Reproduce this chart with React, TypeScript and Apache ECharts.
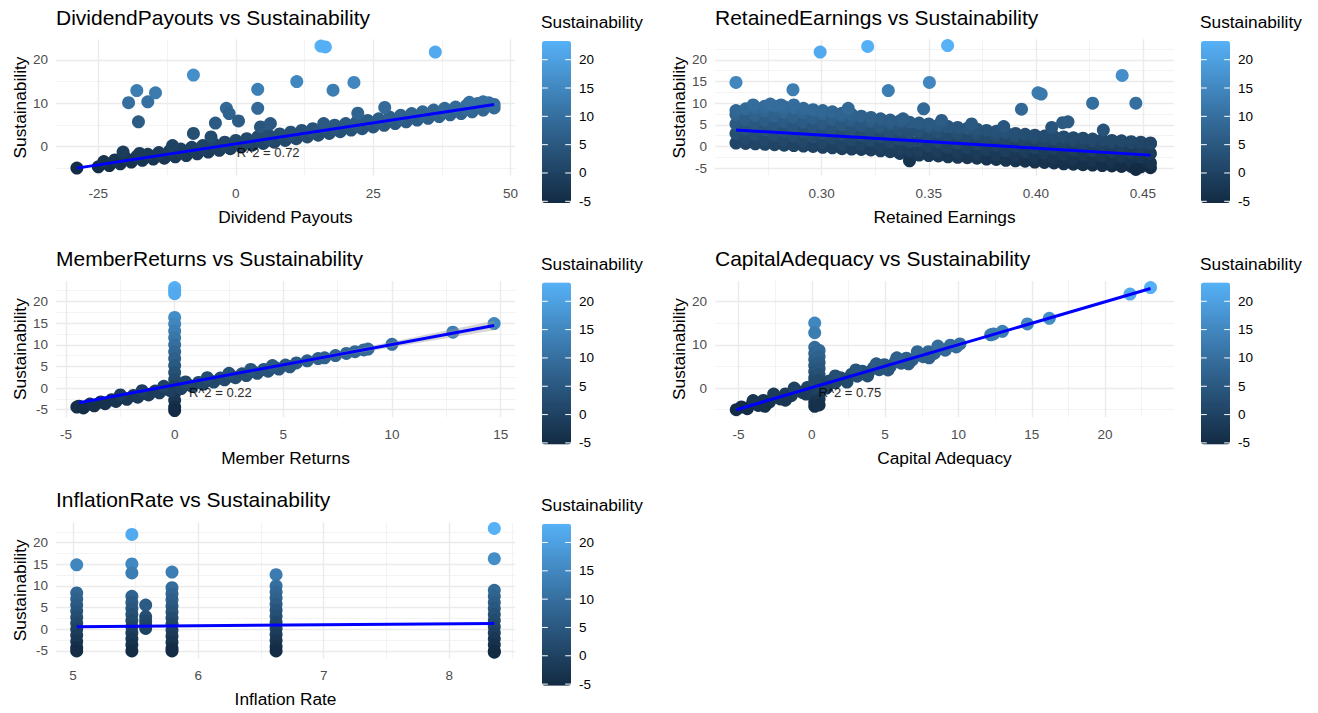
import React, { useEffect, useRef } from "react";
import * as echarts from "echarts";

const FONT = '"Liberation Sans", Arial, Helvetica, sans-serif';

// ---------------- DATA ----------------
// Panel 1: Dividend Payouts vs Sustainability
const dividendBandLower: [number, number][] = [
  [-25, -4.7], [-23, -4.4], [-21, -4.0], [-19, -3.6], [-17, -3.2], [-15, -2.9], [-13, -2.7], [-11, -2.4],
  [-9, -2.1], [-7, -1.7], [-5, -1.3], [-3, -0.9], [-1, -0.5], [1, -0.1], [3, 0.3], [5, 0.7], [7, 1.0],
  [9, 1.4], [11, 1.8], [13, 2.2], [15, 2.6], [17, 3.0], [19, 3.4], [21, 3.8], [23, 4.1], [25, 4.5],
  [27, 4.9], [29, 5.3], [31, 5.7], [33, 6.1], [35, 6.5], [37, 6.9], [39, 7.3], [41, 7.6], [43, 8.0],
  [45, 8.4], [47, 8.9],
];
const dividendBandUpper: [number, number][] = [
  [-24, -3.5], [-22, -3.1], [-20, -2.7], [-18, -2.3], [-16, -1.8], [-14, -1.4], [-12, -1.0], [-10, -0.6],
  [-8, -0.2], [-6, 0.2], [-4, 0.6], [-2, 1.0], [0, 1.4], [2, 1.8], [4, 2.2], [6, 2.6], [8, 2.9], [10, 3.3],
  [12, 3.7], [14, 4.1], [16, 4.5], [18, 4.9], [20, 5.3], [22, 5.7], [24, 6.0], [26, 6.4], [28, 6.8],
  [30, 7.2], [32, 7.6], [34, 8.0], [36, 8.4], [38, 8.8], [40, 9.1], [42, 9.5], [44, 9.9], [46, 10.1],
];
const dividendBandCenter: [number, number][] = [
  [-14, -2.1], [-10, -1.3], [-6, -0.6], [-2, 0.2], [2, 1.0], [6, 1.8], [10, 2.5], [14, 3.3], [18, 4.1],
  [22, 4.9], [26, 5.6], [30, 6.4], [34, 7.2], [38, 8.0], [42, 8.7], [46, 9.5], [47, 9.7],
];
const dividendOutliers: [number, number][] = [
  [-28.9, -5.0], [-20.5, -1.3], [-17.5, -1.6], [-11.5, 0.2], [16.0, 5.3], [22.2, 7.7], [42.5, 10.2], [45.0, 10.3],
  [-19.5, 10.1], [-18.0, 12.9], [-17.7, 5.7], [-16.0, 10.3], [-14.6, 12.4], [-7.7, 16.5], [-7.7, 3.0],
  [-3.7, 5.4], [-4.5, 2.2], [-1.7, 8.8], [-1.2, 7.6], [0.5, 5.9], [4.0, 13.2], [4.0, 8.8], [4.5, 4.5],
  [6.3, 5.3], [11.1, 15.0], [15.5, 23.2], [16.3, 23.0], [17.7, 13.0], [21.5, 14.8], [27.1, 9.0], [36.3, 21.8],
];
const dividendFit: [number, number][] = [[-28.9, -5.0], [47.0, 9.7]];

// Panel 2: Retained Earnings vs Sustainability (dense cloud by columns)
const retainedColumns: [number, number[]][] = [
  [0.2600, [0.8, 3.0, 5.2, 7.4, 8.3]],
  [0.2645, [0.7, 1.8, 4.0, 6.2, 8.7]],
  [0.2690, [0.6, 2.8, 5.0, 7.2, 9.1]],
  [0.2735, [0.5, 1.6, 3.8, 6.0, 8.2, 9.3]],
  [0.2780, [0.4, 2.6, 4.8, 7.0, 9.3]],
  [0.2825, [0.3, 1.4, 3.6, 5.8, 8.0, 9.2]],
  [0.2870, [0.2, 2.4, 4.6, 6.8, 9.0]],
  [0.2915, [0.1, 1.2, 3.4, 5.6, 7.8, 8.8]],
  [0.2960, [0.0, 2.2, 4.4, 6.6, 8.5]],
  [0.3005, [-0.2, 0.9, 3.1, 5.3, 7.5, 8.3]],
  [0.3050, [-0.3, 1.9, 4.1, 6.3, 8.0]],
  [0.3095, [-0.5, 0.6, 2.8, 5.0, 7.2, 7.7]],
  [0.3140, [-0.6, 1.6, 3.8, 6.0, 7.4]],
  [0.3185, [-0.7, 0.4, 2.6, 4.8, 7.0]],
  [0.3230, [-0.8, 1.4, 3.6, 5.8, 6.7]],
  [0.3275, [-1.0, 0.1, 2.3, 4.5, 6.4]],
  [0.3320, [-1.2, 1.0, 3.2, 5.4, 6.1]],
  [0.3365, [-1.6, -0.5, 1.7, 3.9, 5.9]],
  [0.3410, [-3.3, -1.1, 1.1, 3.3, 5.6]],
  [0.3455, [-2.0, -0.9, 1.3, 3.5, 5.4]],
  [0.3500, [-2.1, 0.1, 2.3, 4.5, 5.2]],
  [0.3545, [-2.2, -1.1, 1.1, 3.3, 4.9]],
  [0.3590, [-2.4, -0.2, 2.0, 4.6]],
  [0.3635, [-2.5, -1.4, 0.8, 3.0, 4.4]],
  [0.3680, [-2.6, -0.4, 1.8, 4.2]],
  [0.3725, [-2.7, -1.6, 0.6, 2.8, 4.0]],
  [0.3770, [-2.9, -0.7, 1.5, 3.7]],
  [0.3815, [-3.0, -1.9, 0.3, 2.5, 3.5]],
  [0.3860, [-3.2, -1.0, 1.2, 3.2]],
  [0.3905, [-3.3, -2.2, 0.0, 2.2, 3.0]],
  [0.3950, [-3.4, -1.2, 1.0, 2.8]],
  [0.3995, [-3.6, -2.5, -0.3, 1.9, 2.6]],
  [0.4040, [-3.7, -1.5, 0.7, 2.4]],
  [0.4085, [-3.8, -2.7, -0.5, 1.7, 2.3]],
  [0.4130, [-4.0, -1.8, 0.4, 2.2]],
  [0.4175, [-4.1, -3.0, -0.8, 1.4, 2.0]],
  [0.4220, [-4.2, -2.0, 0.2, 1.9]],
  [0.4265, [-4.3, -3.2, -1.0, 1.2, 1.7]],
  [0.4310, [-4.4, -2.2, 0.0, 1.6]],
  [0.4355, [-4.5, -3.4, -1.2, 1.0, 1.4]],
  [0.4400, [-4.6, -2.4, -0.2, 1.3]],
  [0.4445, [-4.6, -3.5, -1.3, 0.9, 1.1]],
  [0.4490, [-4.7, -2.5, -0.3, 1.0]],
  [0.4535, [-4.9, -3.8, -1.6, 0.6, 0.8]],
];
const retainedOutliers: [number, number][] = [
  [0.268, 9.6], [0.276, 9.8], [0.281, 9.6], [0.338, 6.4], [0.356, 6.0], [0.370, 5.2], [0.385, 4.6],
  [0.260, 14.8], [0.2866, 13.1], [0.287, 9.6], [0.2993, 21.8], [0.3215, 23.1], [0.3311, 12.9],
  [0.3124, 8.8], [0.3476, 8.7], [0.3503, 14.8], [0.3588, 23.3], [0.3933, 8.6], [0.401, 12.4],
  [0.4025, 12.1], [0.4074, 4.4], [0.4125, 5.5], [0.415, 5.7], [0.4265, 10.0], [0.4403, 16.4],
  [0.4467, 10.0], [0.4315, 3.8], [0.4467, -5.3],
];
const retainedFit: [number, number][] = [[0.26, 3.8], [0.4535, -2.0]];

// Panel 3: Member Returns vs Sustainability
const memberZeroColumn: number[] = [23.2, 22.6, 21.8, 16.3, 14.8, 13.2, 11.6, 10.0, 8.4, 6.8, 5.2, 3.6, 2.0, 0.4, -1.2, -2.8, -4.4, -5.2];
const memberBand: [number, number][] = [
  [-4.5, -4.4],
  [-4.4, -4.2], [-3.9, -3.7], [-3.4, -3.2], [-2.9, -2.7], [-2.4, -2.2], [-1.9, -1.7], [-1.4, -1.2], [-0.9, -0.7],
  [-0.4, -0.2], [0.1, 0.3], [0.6, 0.8], [1.1, 1.3], [1.6, 1.8], [2.1, 2.3], [2.6, 2.8], [3.1, 3.3], [3.6, 3.8],
  [4.1, 4.3], [4.6, 4.8], [5.1, 5.3], [5.6, 5.8], [6.1, 6.3], [6.6, 6.8],
  [-4.2, -4.6], [-3.7, -4.1], [-3.2, -3.6], [-2.7, -3.1], [-2.2, -2.6], [-1.7, -2.1], [-1.2, -1.6], [-0.7, -1.1],
  [-0.2, -0.6], [0.3, -0.1], [0.8, 0.4], [1.3, 0.9], [1.8, 1.4], [2.3, 1.9], [2.8, 2.4], [3.3, 2.9], [3.8, 3.4],
  [4.3, 3.9], [4.8, 4.4], [5.3, 4.9],
  [-2.5, -1.6], [-1.5, -0.6], [-0.5, 0.4], [0.5, 1.4], [1.5, 2.4], [2.5, 3.4], [3.5, 4.3], [4.5, 5.2],
  [6.9, 7.0], [7.4, 7.5], [7.9, 8.0], [8.3, 8.4], [8.7, 8.8], [8.9, 9.0], [10.0, 10.1], [12.8, 12.9], [14.7, 14.9],
];
const memberFit: [number, number][] = [[-4.4, -3.38], [14.7, 14.45]];
const memberSeX: number[] = [-4.4, -2, 0.5, 3, 5.5, 8, 10.5, 12.5, 14.7];
const memberSeLow: number[] = [-3.68, -1.34, 1.05, 3.33, 5.56, 7.69, 9.83, 11.49, 13.35];
const memberSeHigh: number[] = [-3.08, -0.94, 1.35, 3.73, 6.16, 8.69, 11.23, 13.29, 15.55];

// Panel 4: Capital Adequacy vs Sustainability
const capitalColumns: [number, number[]][] = [
  [0.2, [15.0, 12.8, 9.4, 8.0, 6.6, 5.2, 3.8, 2.4, 1.0, -0.4, -1.8, -3.2, -4.2]],
  [0.5, [8.7, 7.3, 5.9, 4.5, 3.1, 1.7, 0.3, -1.1, -2.5, -3.9]],
];
const capitalBand: [number, number][] = [
  [-4.8, -4.35], [-4.05, -3.6], [-3.3, -2.85], [-2.55, -2.1], [-1.8, -1.35], [-1.05, -0.6], [-0.3, 0.15],
  [0.45, 0.9], [1.2, 1.65], [1.95, 2.4], [2.7, 3.15], [3.45, 3.9], [4.2, 4.65], [4.95, 5.4], [5.7, 6.15],
  [6.45, 6.9], [7.2, 7.65], [7.95, 8.4], [8.7, 9.15], [9.45, 9.9],
  [-5.15, -5.0], [-4.4, -4.75], [-3.65, -4.0], [-2.9, -3.25], [-2.15, -2.5], [-1.4, -1.75], [-0.65, -1.0],
  [0.1, -0.25], [0.85, 0.5], [1.6, 1.25], [2.35, 2.0], [3.1, 2.75], [3.85, 3.5], [4.6, 4.25], [5.35, 5.0],
  [6.1, 5.75], [6.85, 6.5], [7.6, 7.25], [8.35, 8.0], [9.1, 8.75], [9.85, 9.5], [10.1, 10.2],
  [-4.0, -2.9], [-2.6, -1.4], [-1.2, 0.0], [0.2, 1.4], [1.6, 2.8], [3.0, 4.2], [4.4, 5.6], [5.8, 7.0],
  [7.2, 8.4], [8.6, 9.7],
  [-3.2, -4.2], [-1.8, -2.8], [-0.4, -1.4], [1.0, 0.0], [2.4, 1.4], [3.8, 2.8], [5.2, 4.2], [6.6, 5.6], [8.0, 7.0],
  [12.2, 12.3], [12.4, 12.5], [13.0, 13.1], [14.7, 14.8], [16.2, 16.1], [21.7, 21.7], [23.1, 23.2],
];
const capitalFit: [number, number][] = [[-5.15, -5.0], [23.1, 23.0]];

// Panel 5: Inflation Rate vs Sustainability
const inflationColumns: [number, number[]][] = [
  [5.03, [14.9, 8.4, 7.0, 5.6, 4.2, 2.8, 1.4, 0.0, -1.4, -2.8, -4.2, -5.0]],
  [5.47, [21.9, 15.1, 13.0, 7.6, 6.2, 4.8, 3.4, 2.0, 0.6, -0.8, -2.2, -3.6, -5.0]],
  [5.58, [5.6, 2.9, 1.9, 0.9, 0.2]],
  [5.79, [13.2, 9.6, 8.2, 6.8, 5.4, 4.0, 2.6, 1.2, -0.2, -1.6, -3.0, -4.4, -5.0]],
  [6.62, [12.6, 10.0, 8.6, 7.2, 5.8, 4.4, 3.0, 1.6, 0.2, -1.2, -2.6, -4.0, -5.0]],
  [8.36, [23.3, 16.3, 9.0, 7.6, 6.2, 4.8, 3.4, 2.0, 0.6, -0.8, -2.2, -3.6, -5.0, -5.3]],
];
const inflationFit: [number, number][] = [[5.03, 0.6], [8.36, 1.35]];

// Texts
const panelTitles = [
  "DividendPayouts vs Sustainability",
  "RetainedEarnings vs Sustainability",
  "MemberReturns vs Sustainability",
  "CapitalAdequacy vs Sustainability",
  "InflationRate vs Sustainability",
];
const xAxisTitles = ["Dividend Payouts", "Retained Earnings", "Member Returns", "Capital Adequacy", "Inflation Rate"];
const yAxisTitle = "Sustainability";
const legendTitle = "Sustainability";
const legendBreaks = [20, 15, 10, 5, 0, -5];
const r2Labels: (string | null)[] = ["R^2 = 0.72", null, "R^2 = 0.22", "R^2 = 0.75", null];
const r2Positions: ([number, number] | null)[] = [[5.9, -1.3], null, [2.1, -1.0], [2.6, -1.0], null];
const COLOR_MIN = -5.3;
const COLOR_MAX = 23.3;

// ---------------- LAYOUT ----------------
const GRAD = ["#132B43", "#234A6D", "#336A98", "#448DC7", "#56B1F7"];
const PW = 459;
const PH = 136.2;
const Y_MIN = -6.73;
const Y_MAX = 24.73;
const BAR_H = 162;
const BAR_W = 29;
const DOT = 13;
const PANELS = [
  { left: 56, top: 39.4, xMin: -32.7, xMax: 50.8, xStep: 25, yStep: 10, dec: 0, legendX: 542 },
  { left: 715, top: 39.4, xMin: 0.2502, xMax: 0.4645, xStep: 0.05, yStep: 5, dec: 2, legendX: 1201 },
  { left: 56, top: 281, xMin: -5.46, xMax: 15.66, xStep: 5, yStep: 5, dec: 0, legendX: 542 },
  { left: 715, top: 281, xMin: -6.6, xMax: 24.7, xStep: 5, yStep: 10, dec: 0, legendX: 1201 },
  { left: 56, top: 522.2, xMin: 4.865, xMax: 8.525, xStep: 1, yStep: 5, dec: 0, legendX: 542 },
];

function fromColumns(cols: [number, number[]][]): [number, number][] {
  const out: [number, number][] = [];
  cols.forEach(([x, ys]) => ys.forEach((y) => out.push([x, y])));
  return out;
}

const panelPoints: [number, number][][] = [
  [...dividendBandLower, ...dividendBandCenter, ...dividendBandUpper, ...dividendOutliers],
  [...fromColumns(retainedColumns), ...retainedOutliers],
  [...memberZeroColumn.map((y) => [0, y] as [number, number]), ...memberBand],
  [...fromColumns(capitalColumns), ...capitalBand],
  fromColumns(inflationColumns),
];
const panelFits = [dividendFit, retainedFit, memberFit, capitalFit, inflationFit];

function buildOption() {
  const grid = PANELS.map((p) => ({ left: p.left, top: p.top, width: PW, height: PH }));

  const xMajor = PANELS.map((p, i) => ({
    type: "value", gridIndex: i, min: p.xMin, max: p.xMax,
    minInterval: p.xStep, maxInterval: p.xStep, z: 1,
    axisLine: { show: false }, axisTick: { show: false },
    axisLabel: {
      show: true, color: "#4D4D4D", fontSize: 13.5, margin: 10.5, fontFamily: FONT,
      showMinLabel: false, showMaxLabel: false,
      formatter: (v: number) => (p.dec ? v.toFixed(p.dec) : String(Math.round(v * 1000) / 1000)),
    },
    splitLine: { show: true, showMinLine: false, showMaxLine: false, lineStyle: { color: "#EBEBEB", width: 1.4 } },
    name: xAxisTitles[i], nameLocation: "middle", nameGap: 32.5,
    nameTextStyle: { color: "#000000", fontSize: 17.3, fontFamily: FONT },
  }));
  const xMinor = PANELS.map((p, i) => ({
    type: "value", gridIndex: i, min: p.xMin, max: p.xMax,
    minInterval: p.xStep / 2, maxInterval: p.xStep / 2, z: 0,
    axisLine: { show: false }, axisTick: { show: false }, axisLabel: { show: false },
    splitLine: { show: true, showMinLine: false, showMaxLine: false, lineStyle: { color: "#F0F0F0", width: 0.8 } },
  }));
  const yMajor = PANELS.map((p, i) => ({
    type: "value", gridIndex: i, min: Y_MIN, max: Y_MAX,
    minInterval: p.yStep, maxInterval: p.yStep, z: 1,
    axisLine: { show: false }, axisTick: { show: false },
    axisLabel: {
      show: true, color: "#4D4D4D", fontSize: 13.5, margin: 8, fontFamily: FONT,
      showMinLabel: false, showMaxLabel: false,
      formatter: (v: number) => String(Math.round(v * 1000) / 1000),
    },
    splitLine: { show: true, showMinLine: false, showMaxLine: false, lineStyle: { color: "#EBEBEB", width: 1.4 } },
    name: yAxisTitle, nameLocation: "middle", nameGap: 28,
    nameTextStyle: { color: "#000000", fontSize: 17.3, fontFamily: FONT },
  }));
  const yMinor = PANELS.map((p, i) => ({
    type: "value", gridIndex: i, min: Y_MIN, max: Y_MAX,
    minInterval: p.yStep / 2, maxInterval: p.yStep / 2, z: 0,
    axisLine: { show: false }, axisTick: { show: false }, axisLabel: { show: false },
    splitLine: { show: true, showMinLine: false, showMaxLine: false, lineStyle: { color: "#F0F0F0", width: 0.8 } },
  }));

  const series: any[] = [];
  PANELS.forEach((p, i) => {
    series.push({
      type: "scatter", xAxisIndex: i, yAxisIndex: i, data: panelPoints[i],
      symbol: "circle", symbolSize: DOT, itemStyle: { opacity: 1 }, z: 2, silent: true,
    });
  });
  // confidence band for Member Returns
  series.push({
    type: "custom", xAxisIndex: 2, yAxisIndex: 2, z: 3, silent: true, data: [0],
    renderItem: (_params: any, api: any) => {
      const pts: number[][] = [];
      for (let k = 0; k < memberSeX.length; k++) pts.push(api.coord([memberSeX[k], memberSeHigh[k]]));
      for (let k = memberSeX.length - 1; k >= 0; k--) pts.push(api.coord([memberSeX[k], memberSeLow[k]]));
      return { type: "polygon", shape: { points: pts }, style: { fill: "rgba(153,153,153,0.4)" } };
    },
  });
  PANELS.forEach((p, i) => {
    series.push({
      type: "line", xAxisIndex: i, yAxisIndex: i, data: panelFits[i], symbol: "none", z: 4, silent: true,
      lineStyle: { color: "#0000FF", width: 3 },
    });
  });
  PANELS.forEach((p, i) => {
    const pos = r2Positions[i];
    if (!pos) return;
    series.push({
      type: "scatter", xAxisIndex: i, yAxisIndex: i, data: [pos], symbolSize: 0.1, z: 5, silent: true,
      itemStyle: { color: "rgba(0,0,0,0)" },
      label: {
        show: true, position: "inside", formatter: r2Labels[i], color: "#000000", fontSize: 13,
        fontFamily: FONT, textBorderColor: "rgba(0,0,0,0.35)", textBorderWidth: 0.4,
      },
    });
  });

  const visualMap = PANELS.map((p, i) => ({
    type: "continuous", seriesIndex: i, dimension: 1, min: COLOR_MIN, max: COLOR_MAX,
    show: true, calculable: false, hoverLink: false, orient: "vertical",
    left: p.legendX, top: p.top + 1.6, itemWidth: BAR_W, itemHeight: BAR_H, padding: 0,
    inRange: { color: GRAD },
  }));

  const graphic: any[] = [];
  PANELS.forEach((p) => {
    const bx = p.legendX;
    const by = p.top + 1.6;
    graphic.push({
      type: "text", x: bx - 1, y: p.top - 17.4, z: 100,
      style: { text: legendTitle, fontSize: 17.3, fontFamily: FONT, fill: "#000000", align: "left", verticalAlign: "middle" },
    });
    legendBreaks.forEach((v) => {
      const y = by + ((COLOR_MAX - v) / (COLOR_MAX - COLOR_MIN)) * BAR_H;
      graphic.push({
        type: "text", x: bx + 37, y, z: 100,
        style: { text: String(v), fontSize: 13.5, fontFamily: FONT, fill: "#000000", align: "left", verticalAlign: "middle" },
      });
      graphic.push({ type: "line", z: 100, shape: { x1: bx, y1: y, x2: bx + 5.8, y2: y }, style: { stroke: "#FFFFFF", lineWidth: 1 } });
      graphic.push({ type: "line", z: 100, shape: { x1: bx + BAR_W - 5.8, y1: y, x2: bx + BAR_W, y2: y }, style: { stroke: "#FFFFFF", lineWidth: 1 } });
    });
  });

  const title = PANELS.map((p, i) => ({
    text: panelTitles[i], left: p.left, top: p.top - 32.8, padding: 0,
    textStyle: { fontSize: 21, fontWeight: "normal", color: "#000000", fontFamily: FONT },
  }));

  return {
    animation: false,
    backgroundColor: "#FFFFFF",
    textStyle: { fontFamily: FONT },
    title,
    grid,
    xAxis: [...xMajor, ...xMinor],
    yAxis: [...yMajor, ...yMinor],
    visualMap,
    series,
    graphic,
  };
}

export default function App() {
  const ref = useRef<HTMLDivElement>(null);
  useEffect(() => {
    if (!ref.current) return;
    const chart = echarts.init(ref.current, undefined, { renderer: "svg" });
    chart.setOption(buildOption() as any);
    return () => chart.dispose();
  }, []);
  return (
    <div
      ref={ref}
      style={{ position: "absolute", left: 0, top: 0, width: 1318, height: 713, background: "#FFFFFF" }}
    />
  );
}
